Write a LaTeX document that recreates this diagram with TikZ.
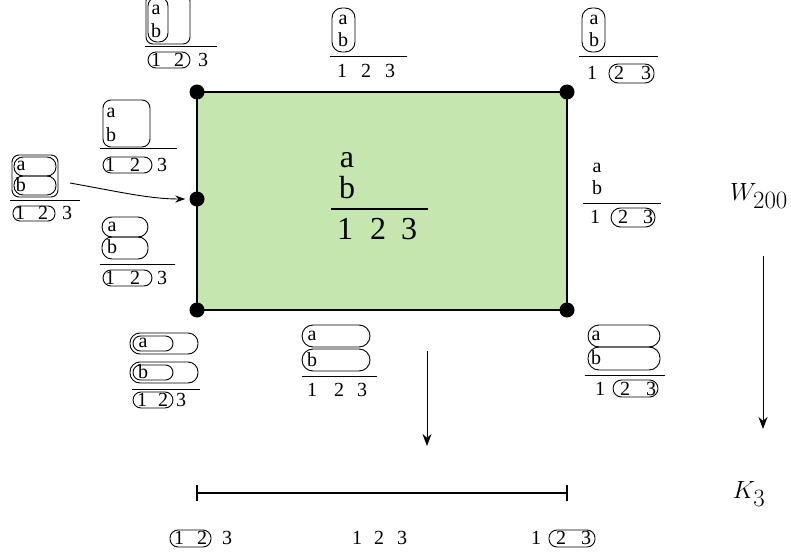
\documentclass[tikz,border=0pt]{standalone}
\usepackage{fontspec}
\setmainfont{Liberation Serif}
\usetikzlibrary{arrows.meta}
\definecolor{fillgreen}{RGB}{198,230,175}
\begin{document}
\begin{tikzpicture}[x=1pt,y=-1pt,
 sm/.style={font=\fontsize{20}{20}\selectfont, inner sep=0pt},
 bg/.style={font=\fontsize{32}{32}\selectfont, inner sep=0pt},
 mth/.style={font=\fontsize{34}{34}\selectfont, inner sep=0pt},
 bx/.style={draw, line width=0.9pt},
 fl/.style={line width=0.9pt},
 dot/.style={circle, fill=black, inner sep=0pt, minimum size=15pt},
 arr/.style={line width=1pt, -{Stealth[length=12pt,width=9pt]}}
]
\useasboundingbox (0,0) rectangle (791,556);
\fill[white] (0,0) rectangle (791,556);
\clip (0,0) rectangle (791,556);
% main rectangle
\draw[fill=fillgreen, line width=1.5pt] (197,92) rectangle (567,310);
\node[dot] (c1) at (197,92) {};
\node[dot] (c2) at (567,92) {};
\node[dot] (c3) at (197,310) {};
\node[dot] (c4) at (567,310) {};
\node[dot] (cl) at (197,199) {};
% center label
\node[bg] (m-a) at (347,160) {a};
\node[bg] (m-b) at (347,188) {b};
\draw[line width=1.2pt] (331,209) -- (428,209);
\node[bg] (m-1) at (345,229) {1};
\node[bg] (m-2) at (378,229) {2};
\node[bg] (m-3) at (409,229) {3};
% TL label
\draw[bx, rounded corners=7pt] (146,-6) rectangle (190,44);
\draw[bx, rounded corners=9pt] (148,-3) rectangle (168,42);
\node[sm] (tl-a) at (156,10) {a};
\node[sm] (tl-b) at (156,31) {b};
\draw[fl] (145,46) -- (217,46);
\draw[bx, rounded corners=8pt] (148,52) rectangle (190,68);
\node[sm] (tl-1) at (156,60) {1};
\node[sm] (tl-2) at (179,60) {2};
\node[sm] (tl-3) at (203,60) {3};
% T label
\draw[bx, rounded corners=10pt] (332,8) rectangle (355,52);
\node[sm] (t-a) at (343,20) {a};
\node[sm] (t-b) at (343,40) {b};
\draw[fl] (330,56) -- (407,56);
\node[sm] (t-1) at (342,71) {1};
\node[sm] (t-2) at (366,71) {2};
\node[sm] (t-3) at (390,71) {3};
% TR label
\draw[bx, rounded corners=10pt] (582,8) rectangle (605,52);
\node[sm] (tr-a) at (594,20) {a};
\node[sm] (tr-b) at (594,40) {b};
\draw[fl] (579,56) -- (658,56);
\draw[bx, rounded corners=9pt] (609,64) rectangle (654,83);
\node[sm] (tr-1) at (592,73) {1};
\node[sm] (tr-2) at (619,73) {2};
\node[sm] (tr-3) at (646,73) {3};
% L1 label
\draw[bx, rounded corners=8pt] (103,100) rectangle (150,147);
\node[sm] (l1-a) at (111,113) {a};
\node[sm] (l1-b) at (111,135) {b};
\draw[fl] (100,148) -- (177,148);
\draw[bx, rounded corners=8pt] (103,157) rectangle (152,173);
\node[sm] (l1-1) at (110,165) {1};
\node[sm] (l1-2) at (135,165) {2};
\node[sm] (l1-3) at (162,165) {3};
% L0 label
\draw[bx, rounded corners=7pt] (12,155) rectangle (58,197);
\draw[bx, rounded corners=9pt] (14,157) rectangle (56,176);
\draw[bx, rounded corners=9pt] (14,176) rectangle (56,195);
\node[sm] (l0-a) at (21,166) {a};
\node[sm] (l0-b) at (21,185) {b};
\draw[fl] (10,200) -- (80,200);
\draw[bx, rounded corners=7pt] (13,206) rectangle (55,221);
\node[sm] (l0-1) at (20,213) {1};
\node[sm] (l0-2) at (43,213) {2};
\node[sm] (l0-3) at (67,213) {3};
\coordinate (arrs) at (70,183);
\draw[line width=0.9pt, -{Stealth[length=10pt,width=7pt]}, shorten >=4pt] (arrs) .. controls (120,192) and (150,199) .. (cl);
% L2 label
\draw[bx, rounded corners=10pt] (102,217) rectangle (148,237);
\draw[bx, rounded corners=10pt] (102,237) rectangle (148,259);
\node[sm] (l2-a) at (112,227) {a};
\node[sm] (l2-b) at (112,247) {b};
\draw[fl] (100,264) -- (175,264);
\draw[bx, rounded corners=8pt] (103,270) rectangle (152,286);
\node[sm] (l2-1) at (110,278) {1};
\node[sm] (l2-2) at (135,278) {2};
\node[sm] (l2-3) at (162,278) {3};
% BL label
\draw[bx, rounded corners=10pt] (130,333) rectangle (198,354);
\draw[bx, rounded corners=7.5pt] (133,336) rectangle (173,351);
\draw[bx, rounded corners=10pt] (130,362) rectangle (198,383);
\draw[bx, rounded corners=7.5pt] (133,365) rectangle (173,380);
\node[sm] (bl-a) at (143,343) {a};
\node[sm] (bl-b) at (143,372) {b};
\draw[fl] (132,389) -- (200,389);
\draw[bx, rounded corners=8pt] (133,392) rectangle (173,408);
\node[sm] (bl-1) at (142,400) {1};
\node[sm] (bl-2) at (163,400) {2};
\node[sm] (bl-3) at (181,400) {3};
% B label
\draw[bx, rounded corners=11pt] (302,325) rectangle (370,347);
\draw[bx, rounded corners=11pt] (302,349) rectangle (370,371);
\node[sm] (b-a) at (312,336) {a};
\node[sm] (b-b) at (312,360) {b};
\draw[fl] (302,376) -- (377,376);
\node[sm] (b-1) at (312,390) {1};
\node[sm] (b-2) at (339,390) {2};
\node[sm] (b-3) at (362,390) {3};
% BR label
\draw[bx, rounded corners=11pt] (588,325) rectangle (660,347);
\draw[bx, rounded corners=11pt] (588,347) rectangle (660,370);
\node[sm] (br-a) at (596,336) {a};
\node[sm] (br-b) at (596,358) {b};
\draw[fl] (585,375) -- (665,375);
\draw[bx, rounded corners=8.5pt] (613,380) rectangle (658,397);
\node[sm] (br-1) at (600,389) {1};
\node[sm] (br-2) at (625,389) {2};
\node[sm] (br-3) at (651,389) {3};
% R label
\node[sm] (r-a) at (597,168) {a};
\node[sm] (r-b) at (597,188) {b};
\draw[fl] (583,203) -- (661,203);
\draw[bx, rounded corners=9.5pt] (611,208) rectangle (655,227);
\node[sm] (r-1) at (595,217) {1};
\node[sm] (r-2) at (623,217) {2};
\node[sm] (r-3) at (648,217) {3};
% arrows
\coordinate (ma1) at (427,351);
\coordinate (ma2) at (427,446);
\draw[arr] (ma1) -- (ma2);
\coordinate (ra1) at (763,256);
\coordinate (ra2) at (763,429);
\draw[arr] (ra1) -- (ra2);
\node[mth] (W) at (759,196) {$W_{200}$};
\node[mth] (K) at (749,494) {$K_3$};
% bottom segment
\coordinate (s1) at (197,493);
\coordinate (s2) at (567,493);
\draw[line width=1.3pt] (s1) -- (s2);
\draw[line width=1.3pt] (197,485) -- (197,501);
\draw[line width=1.3pt] (567,485) -- (567,501);
% bottom labels
\draw[bx, rounded corners=8pt] (170,530) rectangle (211,547);
\node[sm] (q-1) at (179,538) {1};
\node[sm] (q-2) at (202,538) {2};
\node[sm] (q-3) at (227,538) {3};
\node[sm] (p-1) at (357,538) {1};
\node[sm] (p-2) at (379,538) {2};
\node[sm] (p-3) at (402,538) {3};
\draw[bx, rounded corners=8pt] (549,530) rectangle (595,547);
\node[sm] (s-1) at (536,538) {1};
\node[sm] (s-2) at (561,538) {2};
\node[sm] (s-3) at (586,538) {3};
\end{tikzpicture}
\end{document}
